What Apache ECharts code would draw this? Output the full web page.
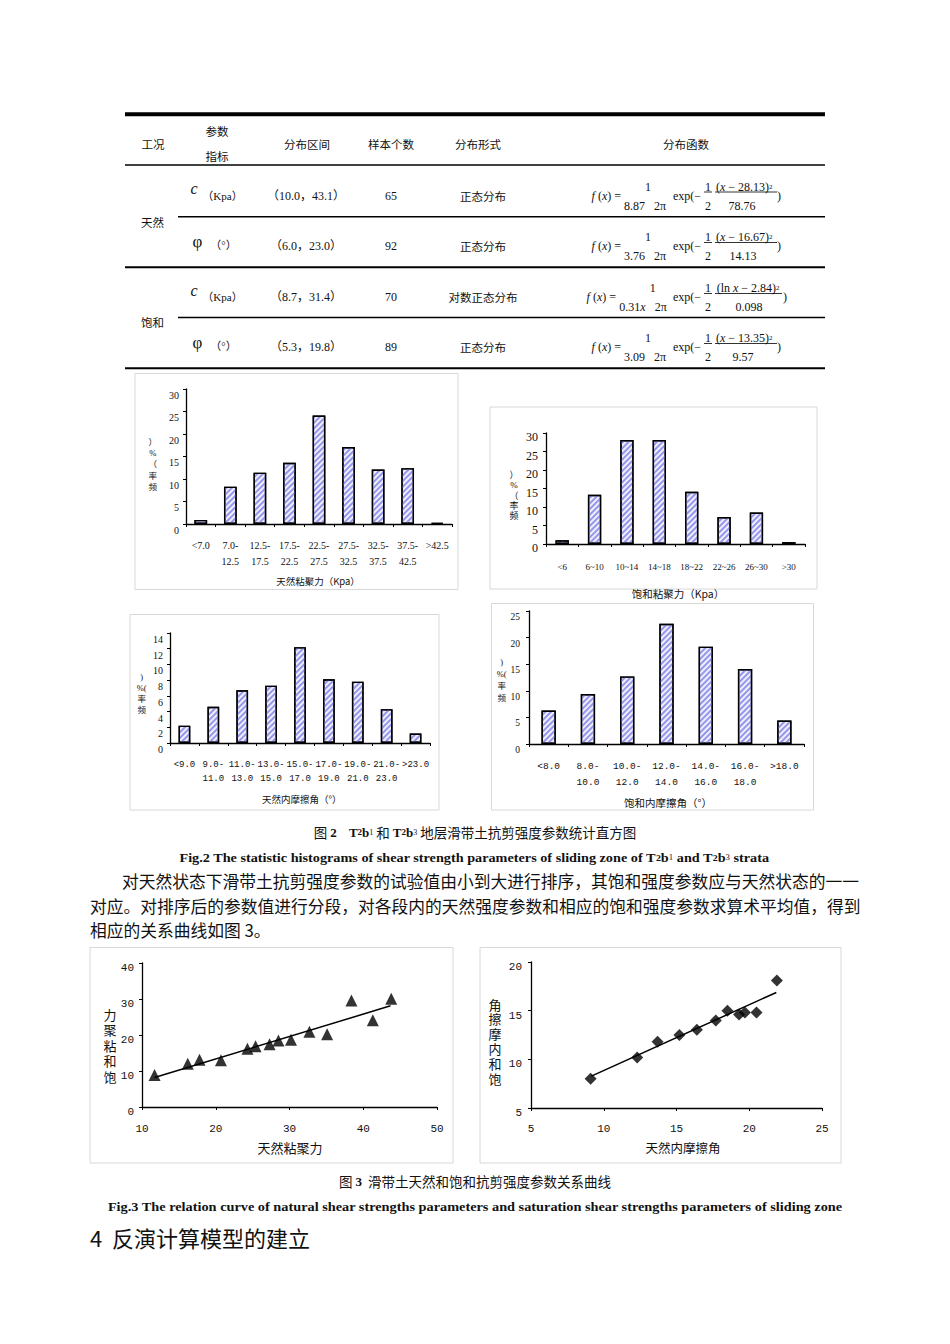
<!DOCTYPE html>
<html>
<head>
<meta charset="utf-8">
<title>滑带土抗剪强度参数统计</title>
<script src="https://cdn.jsdelivr.net/npm/echarts@6.0.0/dist/echarts.min.js"></script>
<style>
html,body{margin:0;padding:0;background:#fff;}
#page{width:950px;height:1344px;}
</style>
</head>
<body>
<div id="page"></div>
<script>
// 图2 直方图 —— 频率(%)
const hist1Cats = ['<7.0', '7.0-\n12.5', '12.5-\n17.5', '17.5-\n22.5', '22.5-\n27.5', '27.5-\n32.5', '32.5-\n37.5', '37.5-\n42.5', '>42.5'];
const hist1Vals = [0.9, 8.3, 11.4, 13.6, 24.1, 17.1, 12.1, 12.4, 0.3];

const hist2Cats = ['<6', '6~10', '10~14', '14~18', '18~22', '22~26', '26~30', '>30'];
const hist2Vals = [1.0, 13.3, 28.1, 28.1, 14.1, 7.3, 8.5, 0.5];

const hist3Cats = ['<9.0', '9.0-\n11.0', '11.0-\n13.0', '13.0-\n15.0', '15.0-\n17.0', '17.0-\n19.0', '19.0-\n21.0', '21.0-\n23.0', '>23.0'];
const hist3Vals = [2.2, 4.6, 6.7, 7.3, 12.2, 8.1, 7.8, 4.3, 1.2];

const hist4Cats = ['<8.0', '8.0-\n10.0', '10.0-\n12.0', '12.0-\n14.0', '14.0-\n16.0', '16.0-\n18.0', '>18.0'];
const hist4Vals = [6.3, 9.4, 12.7, 22.6, 18.3, 14.1, 4.4];

// 图3 天然 vs 饱和
const cohNatural = [11.7, 16.2, 17.8, 20.7, 24.3, 25.4, 27.3, 28.5, 30.2, 32.7, 35.1, 38.4, 41.3, 43.8];
const cohSaturated = [8.9, 12.0, 13.1, 13.0, 16.2, 16.9, 17.4, 18.5, 18.7, 20.9, 20.2, 29.6, 24.1, 30.1];
const cohTrendX = [11.7, 43.7];
const cohTrendY = [8.2, 28.1];

const phiNatural = [9.1, 12.3, 13.7, 15.2, 16.4, 17.7, 18.5, 19.3, 19.7, 20.5, 21.9];
const phiSaturated = [8.0, 10.2, 11.8, 12.5, 13.05, 14.0, 15.0, 14.6, 14.8, 14.8, 18.1];
const phiTrendX = [9.15, 21.86];
const phiTrendY = [8.27, 16.87];

// 表格
const tblRange = ['（10.0，43.1）', '（6.0，23.0）', '（8.7，31.4）', '（5.3，19.8）'];
const tblCount = ['65', '92', '70', '89'];
const tblForm = ['正态分布', '正态分布', '对数正态分布', '正态分布'];
const tblDen1 = ['8.87   2π', '3.76   2π', '0.31{i|x}   2π', '3.09   2π'];
const tblNum = ['({i|x} − 28.13)', '({i|x} − 16.67)', '(ln {i|x} − 2.84)', '({i|x} − 13.35)'];
const tblDen2 = ['78.76', '14.13', '0.098', '9.57'];

const SERIF = '"Liberation Serif","Noto Sans CJK SC",serif';
const CJK = '"Noto Sans CJK SC",sans-serif';
const MONO = '"Liberation Mono","Noto Sans CJK SC",monospace';

const G = [];
function T(x, y, text, size, family, more, el) {
  G.push(Object.assign({
    type: 'text', x: x, y: y, silent: true,
    style: Object.assign({ text: text, fontSize: size, fontFamily: family, fill: '#111', textAlign: 'center', verticalAlign: 'middle' }, more || {})
  }, el || {}));
}
function L(x1, y1, x2, y2, w, c) {
  G.push({ type: 'line', silent: true, shape: { x1: x1, y1: y1, x2: x2, y2: y2 }, style: { stroke: c || '#000', lineWidth: w || 1 } });
}
function R(x, y, w, h) {
  G.push({ type: 'rect', silent: true, z: -1, shape: { x: x, y: y, width: w, height: h }, style: { fill: 'none', stroke: '#d8d8d8', lineWidth: 1 } });
}
function fit(str, font, target) {
  const c = document.createElement('canvas').getContext('2d');
  c.font = font;
  return target / c.measureText(str).width;
}
// stacked (upright) axis title, one char per line
function stack(x, y, chars, size, gap) {
  chars.forEach((ch, k) => T(x, y + k * gap, ch, size, SERIF));
}

// ---- table ----
L(125, 114.3, 825, 114.3, 4);
L(125, 165, 825, 165, 1.3);
L(178, 216.7, 825, 216.7, 1.5);
L(125, 267.3, 825, 267.3, 2);
L(178, 317.5, 825, 317.5, 1.5);
L(125, 368.3, 825, 368.3, 2);

T(153, 144, '工况', 11.5, CJK);
T(217, 131, '参数', 11.5, CJK);
T(217, 156, '指标', 11.5, CJK);
T(307, 144, '分布区间', 11.5, CJK);
T(391, 144, '样本个数', 11.5, CJK);
T(478, 144, '分布形式', 11.5, CJK);
T(686, 144, '分布函数', 11.5, CJK);
T(152.5, 221.7, '天然', 11.5, CJK);
T(152.5, 322.3, '饱和', 11.5, CJK);

const rowY = [195.5, 246, 297, 347];
const symY = [188, 241, 290, 342.3];
const unitY = [195.7, 245, 297.3, 345.7];
const rich = {
  i: { fontStyle: 'italic', fontSize: 12, fontFamily: SERIF, fill: '#111' },
  s: { fontSize: 7, fontFamily: SERIF, fill: '#111' }
};
const fxR = [621, 621, 616, 621], oneX = [648, 648, 652.7, 648], denX = [645, 645, 643, 645];
const numL = [716, 716, 716.7, 716], barR = [777, 777, 782, 777], den2X = [742, 743, 749, 743], parX = [779, 779, 785, 779];
for (let r = 0; r < 4; r++) {
  const Y = rowY[r];
  if (r % 2 === 0) {
    T(194, symY[r], 'c', 16, SERIF, { fontStyle: 'italic' });
    T(222.5, unitY[r], '（Kpa）', 11, SERIF);
  } else {
    T(197.5, symY[r], 'φ', 17, SERIF);
    T(223.5, unitY[r], '（°）', 11, SERIF);
  }
  T(306, Y, tblRange[r], 12, SERIF);
  T(391, Y, tblCount[r], 12, SERIF);
  T(483, Y, tblForm[r], 11.5, CJK);
  T(fxR[r], Y, '{i|f} ({i|x}) =', 12, SERIF, { textAlign: 'right', rich: rich });
  T(oneX[r], Y - 9, '1', 12, SERIF);
  T(denX[r], Y + 10, tblDen1[r], 12, SERIF, { rich: rich });
  T(673, Y, 'exp(−', 12, SERIF, { textAlign: 'left' });
  T(708, Y - 9, '1', 12, SERIF);
  T(708, Y + 10, '2', 12, SERIF);
  L(704, Y - 3.5, 712, Y - 3.5, 0.8);
  T(numL[r], Y - 9, tblNum[r] + '{s|2}', 12, SERIF, { textAlign: 'left', rich: rich });
  L(715, Y - 3.5, barR[r], Y - 3.5, 0.8);
  T(den2X[r], Y + 10, tblDen2[r], 12, SERIF);
  T(parX[r], Y, ')', 12, SERIF);
}

// ---- chart frames ----
R(135, 373.5, 323, 216);
R(490, 407, 327, 182);
R(130, 614.5, 309, 195.5);
R(491.5, 603.5, 322, 206.5);
R(90, 947.5, 363, 215.5);
R(480, 947.5, 361, 215.5);

// ---- axis titles ----
T(318, 580.7, '天然粘聚力（Kpa）', 9.5, CJK);
T(678, 593.5, '饱和粘聚力（Kpa）', 10.5, CJK);
T(301.7, 799.3, '天然内摩擦角（°）', 9.5, CJK);
T(668, 802.3, '饱和内摩擦角（°）', 10.5, CJK);
stack(152.7, 441.7, ['）', '%', '（', '率', '频'], 8.5, 11.3);
stack(514, 475, ['）', '%', '（', '率', '频'], 9, 10.3);
stack(141.7, 676.7, [')', '%(', '率', '频'], 8.5, 11.2);
stack(501.7, 661.7, [')', '%(', '率', '频'], 8.5, 12.2);
T(290, 1147.7, '天然粘聚力', 13, CJK);
T(683, 1147.7, '天然内摩擦角', 12.5, CJK);
stack(110, 1015, ['力', '聚', '粘', '和', '饱'], 13, 15.5);
stack(495, 1005, ['角', '擦', '摩', '内', '和', '饱'], 13, 14.8);

// ---- captions & body text ----
const capRich = {
  b: { fontSize: 13, fontWeight: 'bold', fontFamily: SERIF, fill: '#111' },
  sub: { fontSize: 9, fontWeight: 'bold', fontFamily: SERIF, fill: '#111' },
  sm: { fontSize: 8, fontFamily: SERIF, fill: '#111' }
};
T(475, 832, '图 {b|2}    {b|T}{sub|2}{b|b}{sm|1} 和 {b|T}{sub|2}{b|b}{sm|3} 地层滑带土抗剪强度参数统计直方图', 13.5, CJK, { rich: capRich });
const fig2 = 'Fig.2 The statistic histograms of shear strength parameters of sliding zone of T2b1 and T2b3 strata';
T(0, 0, '{b|Fig.2 The statistic histograms of shear strength parameters of sliding zone of T}{sub|2}{b|b}{sm|1}{b| and T}{sub|2}{b|b}{sm|3}{b| strata}', 13, SERIF,
  { rich: capRich }, { x: 474, y: 858, scaleX: fit(fig2, 'bold 13px "Liberation Serif"', 600) });
T(122, 881, '对天然状态下滑带土抗剪强度参数的试验值由小到大进行排序，其饱和强度参数应与天然状态的一一', 16.75, CJK, { textAlign: 'left' });
T(90, 906, '对应。对排序后的参数值进行分段，对各段内的天然强度参数和相应的饱和强度参数求算术平均值，得到', 16.75, CJK, { textAlign: 'left' });
T(90, 930, '相应的关系曲线如图 3。', 16.75, CJK, { textAlign: 'left' });
T(475, 1181, '图 {b|3}  滑带土天然和饱和抗剪强度参数关系曲线', 13.5, CJK, { rich: capRich });
const fig3 = 'Fig.3 The relation curve of natural shear strengths parameters and saturation shear strengths parameters of sliding zone';
T(0, 0, fig3, 13, SERIF, { fontWeight: 'bold' }, { x: 475, y: 1207, scaleX: fit(fig3, 'bold 13px "Liberation Serif"', 736) });
T(90, 1237, '4  反演计算模型的建立', 22, CJK, { textAlign: 'left' });

// ---- charts ----
const grids = [
  { left: 186, top: 389, width: 266, height: 135 },
  { left: 546, top: 433, width: 259, height: 111 },
  { left: 170, top: 633, width: 260, height: 110 },
  { left: 529, top: 611, width: 275, height: 133 },
  { left: 142, top: 963, width: 295, height: 144 },
  { left: 531, top: 962, width: 291, height: 146 }
].map(g => Object.assign({ outerBoundsMode: 'none', containLabel: false }, g));

const axLine = { show: true, lineStyle: { color: '#000', width: 1.3 } };
const axTick = { show: true, length: 3, lineStyle: { color: '#000' } };

function catAxis(i, cats, lab) {
  return { type: 'category', gridIndex: i, data: cats, axisLine: axLine, axisTick: axTick,
    axisLabel: Object.assign({ color: '#111', interval: 0 }, lab) };
}
function valAxis(i, min, max, step, lab, isX) {
  return { type: 'value', gridIndex: i, min: min, max: max, interval: step, axisLine: axLine, axisTick: axTick,
    splitLine: { show: false },
    axisLabel: Object.assign({ color: '#111' }, isX ? {} : { verticalAlign: 'top' }, lab) };
}

const xAxes = [
  catAxis(0, hist1Cats, { fontSize: 10, fontFamily: SERIF, lineHeight: 16, margin: 13 }),
  catAxis(1, hist2Cats, { fontSize: 9, fontFamily: SERIF, lineHeight: 12, margin: 17 }),
  catAxis(2, hist3Cats, { fontSize: 9, fontFamily: MONO, lineHeight: 14.3, margin: 14.5 }),
  catAxis(3, hist4Cats, { fontSize: 9.5, fontFamily: MONO, lineHeight: 15.6, margin: 15 }),
  valAxis(4, 10, 50, 10, { fontSize: 11, fontFamily: MONO, margin: 16 }, true),
  valAxis(5, 5, 25, 5, { fontSize: 11, fontFamily: MONO, margin: 15 }, true)
];
const yAxes = [
  valAxis(0, 0, 30, 5, { fontSize: 10, fontFamily: SERIF, lineHeight: 12, margin: 7 }),
  valAxis(1, 0, 30, 5, { fontSize: 12, fontFamily: SERIF, lineHeight: 8, margin: 8 }),
  valAxis(2, 0, 14, 2, { fontSize: 10, fontFamily: SERIF, lineHeight: 13, margin: 7 }),
  valAxis(3, 0, 25, 5, { fontSize: 9.5, fontFamily: SERIF, lineHeight: 12, margin: 9 }),
  valAxis(4, 0, 40, 10, { fontSize: 11, fontFamily: MONO, lineHeight: 9, margin: 8 }),
  valAxis(5, 5, 20, 5, { fontSize: 11, fontFamily: MONO, lineHeight: 10, margin: 9 })
];

const barStyle = {
  color: '#efeffd',
  borderColor: '#000',
  borderWidth: 1.4,
  decal: { symbol: 'rect', symbolSize: 1, dashArrayX: [1, 0], dashArrayY: [2, 2], rotation: -Math.PI / 4, color: '#9696ea' }
};
function bars(i, vals, w) {
  return { type: 'bar', xAxisIndex: i, yAxisIndex: i, data: vals, barWidth: w, itemStyle: barStyle, silent: true };
}
const zip = (a, b) => a.map((v, k) => [v, b[k]]);

const option = {
  backgroundColor: '#fff',
  animation: false,
  grid: grids,
  xAxis: xAxes,
  yAxis: yAxes,
  graphic: G,
  series: [
    bars(0, hist1Vals, 12.7),
    bars(1, hist2Vals, 13.3),
    bars(2, hist3Vals, 11.7),
    bars(3, hist4Vals, 14.3),
    { type: 'scatter', xAxisIndex: 4, yAxisIndex: 4, data: zip(cohNatural, cohSaturated), symbol: 'triangle', symbolSize: 12, itemStyle: { color: '#000' }, z: 3 },
    { type: 'line', xAxisIndex: 4, yAxisIndex: 4, data: zip(cohTrendX, cohTrendY), symbol: 'none', lineStyle: { color: '#000', width: 1.5 } },
    { type: 'scatter', xAxisIndex: 5, yAxisIndex: 5, data: zip(phiNatural, phiSaturated), symbol: 'diamond', symbolSize: 12, itemStyle: { color: '#000' }, z: 3 },
    { type: 'line', xAxisIndex: 5, yAxisIndex: 5, data: zip(phiTrendX, phiTrendY), symbol: 'none', lineStyle: { color: '#000', width: 1.5 } }
  ]
};

const chart = echarts.init(document.getElementById('page'), null, { renderer: 'svg' });
chart.setOption(option);
</script>
</body>
</html>
